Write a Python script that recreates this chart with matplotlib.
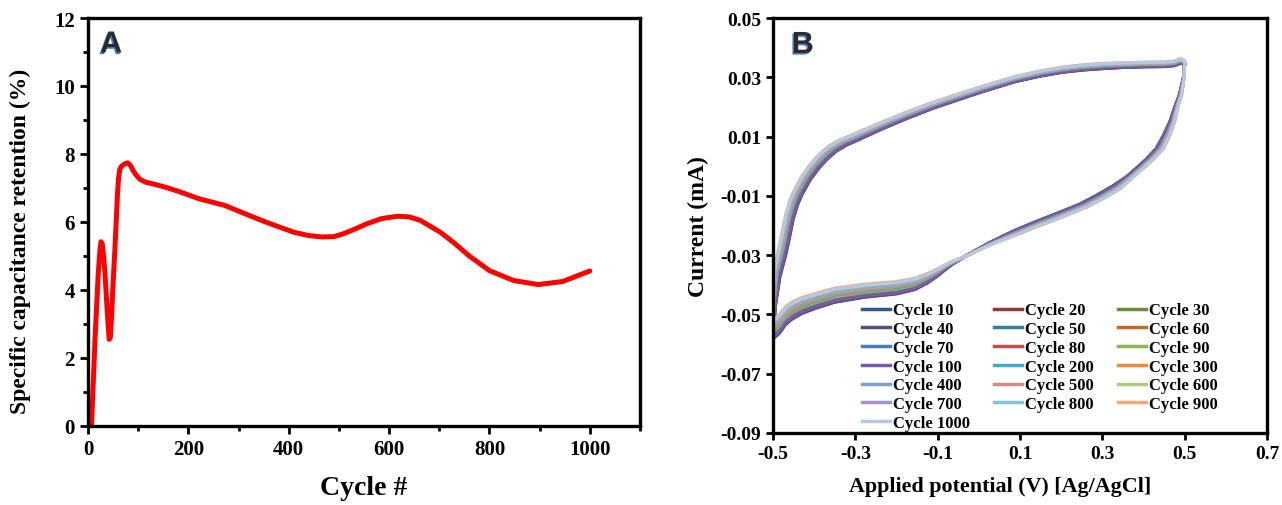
import numpy as np
import matplotlib
matplotlib.use("Agg")
import matplotlib.pyplot as plt
import matplotlib.patheffects as pe
from matplotlib.ticker import MultipleLocator

# ---------------- Panel A: capacitance retention vs cycle ----------------
cycle_no = [7, 14, 20.5, 24, 26, 28.5, 31, 33.7, 37, 40.3, 42.3, 44.5, 47, 50,
            53.6, 56.5, 58.9, 61, 63.5, 67, 72, 78.7, 84, 90, 96, 103, 115, 130,
            155, 182.5, 222, 272, 320, 354, 410, 440, 467, 490, 508, 530, 556,
            585, 617, 640, 662, 702, 730, 759, 800, 848, 897, 946, 1000]
retention = [0, 2.56, 4.5, 5.2, 5.42, 5.35, 5.0, 4.52, 3.7, 2.95, 2.55, 2.6,
             3.24, 4.2, 5.2, 6.1, 6.87, 7.3, 7.56, 7.64, 7.7, 7.74, 7.68, 7.51,
             7.38, 7.26, 7.17, 7.12, 7.02, 6.89, 6.68, 6.49, 6.2, 6.0, 5.70,
             5.60, 5.56, 5.57, 5.65, 5.78, 5.95, 6.1, 6.17, 6.15, 6.05, 5.70,
             5.38, 5.01, 4.57, 4.28, 4.16, 4.25, 4.56]

# ---------------- Panel B: cyclic voltammograms ----------------
cv_labels = ["Cycle 10", "Cycle 20", "Cycle 30", "Cycle 40", "Cycle 50",
             "Cycle 60", "Cycle 70", "Cycle 80", "Cycle 90", "Cycle 100",
             "Cycle 200", "Cycle 300", "Cycle 400", "Cycle 500", "Cycle 600",
             "Cycle 700", "Cycle 800", "Cycle 900", "Cycle 1000"]
cv_colors = ["#2F5A8F", "#943634", "#6E8B3D", "#5F4A7F", "#2E8199", "#C0692B",
             "#4A7CC0", "#C0504D", "#8CB652", "#7A5AA6", "#3FAFC9", "#F08A3C",
             "#7F9FD3", "#D48A88", "#AECB7E", "#A493C2", "#7FC4D9", "#F9A877",
             "#B6C9E3"]
# relative position of each cycle within the bundle of curves (-1 ... 1)
cv_offset = [-1.0, -0.85, -0.7, -0.95, -0.6, -0.45, -0.55, -0.35, -0.25, -0.8,
             -0.05, 0.15, 0.3, 0.4, 0.5, 0.55, 0.7, 1.0, 0.85]

# mean loop: anodic sweep -0.5 -> 0.5 V, then cathodic sweep back to -0.5 V
loop_potential = [-0.500, -0.497, -0.490, -0.478, -0.471, -0.460, -0.449, -0.439,
                  -0.420, -0.398, -0.378, -0.357, -0.330, -0.301, -0.236, -0.175,
                  -0.115, -0.050, 0.007, 0.088, 0.150, 0.200, 0.250, 0.300, 0.350,
                  0.400, 0.450, 0.475, 0.490, 0.500,
                  0.498, 0.490, 0.481, 0.470, 0.456, 0.440, 0.416, 0.392, 0.367,
                  0.335, 0.295, 0.254, 0.213, 0.173, 0.132, 0.092, 0.060, 0.027,
                  -0.030, -0.070, -0.100, -0.125, -0.155, -0.200, -0.277, -0.350,
                  -0.398, -0.430, -0.455, -0.470, -0.483, -0.495, -0.500]
loop_current = [-0.0550, -0.0450, -0.0360, -0.0290, -0.0246, -0.0170, -0.0120,
                -0.0088, -0.0040, 0.0002, 0.0032, 0.0058, 0.0080, 0.0097, 0.0137,
                0.0172, 0.0204, 0.0234, 0.0260, 0.0294, 0.0313, 0.0325, 0.0333,
                0.0338, 0.0341, 0.0343, 0.0344, 0.0347, 0.0355, 0.0350,
                0.0300, 0.0240, 0.0204, 0.0150, 0.0103, 0.0060, 0.0024, -0.0006,
                -0.0036, -0.0071, -0.0103, -0.0133, -0.0156, -0.0178, -0.0200,
                -0.0223, -0.0242, -0.0262, -0.0302, -0.0330, -0.0358, -0.0378,
                -0.0397, -0.0410, -0.0420, -0.0435, -0.0455, -0.0470, -0.0488,
                -0.0505, -0.0529, -0.0545, -0.0550]
# spread of the bundle along the loop (potential and current directions)
spread_potential = [0.0, -0.003, -0.007, -0.009, -0.009, -0.009, -0.009, -0.009,
                    -0.009, -0.009, -0.009, -0.009, -0.008, -0.007, -0.005, -0.004,
                    -0.003, -0.002, -0.001, 0.0, 0.0, 0.0, 0.0, 0.0, 0.0,
                    0.0, 0.0, 0.0, 0.0, 0.0,
                    0.001, 0.003, 0.004, 0.006, 0.008, 0.009, 0.009, 0.009, 0.009,
                    0.009, 0.009, 0.009, 0.009, 0.009, 0.008, 0.007, 0.005, 0.004,
                    0.001, 0.0, 0.0, 0.0, 0.0, 0.0, 0.0, 0.0,
                    0.0, 0.0, 0.0, 0.0, 0.0, 0.0, 0.0]
spread_current = [0.0030, 0.0020, 0.0012, 0.0009, 0.0009, 0.0009, 0.0009, 0.0009,
                  0.0009, 0.0009, 0.0009, 0.0009, 0.0009, 0.0009, 0.0009, 0.0009,
                  0.0009, 0.0009, 0.0009, 0.0009, 0.0009, 0.0009, 0.0009, 0.0009,
                  0.0008, 0.0008, 0.0008, 0.0008, 0.0008, 0.0006,
                  0.0, 0.0, 0.0, 0.0, 0.0, 0.0, 0.0, 0.0, 0.0,
                  -0.0005, -0.0005, -0.0005, -0.0005, -0.0005, -0.0005, -0.0005,
                  -0.0004, -0.0002, 0.0, 0.0006, 0.0012, 0.0016, 0.0019, 0.0021,
                  0.0022, 0.0024, 0.0025, 0.0027, 0.0029, 0.0030, 0.0032, 0.0032,
                  0.0030]

x_ticks_b = [-0.5, -0.3, -0.1, 0.1, 0.3, 0.5, 0.7]
y_ticks_b = [0.05, 0.03, 0.01, -0.01, -0.03, -0.05, -0.07, -0.09]

plt.rcParams["font.family"] = ["Liberation Serif", "DejaVu Serif"]
plt.rcParams["font.weight"] = "bold"

fig = plt.figure(figsize=(12.82, 5.06), dpi=100)
W, H = 1282, 506
ax1 = fig.add_axes([88 / W, 1 - 427 / H, (640 - 88) / W, (427 - 19) / H])
ax2 = fig.add_axes([773 / W, 1 - 434 / H, (1267 - 773) / W, (434 - 19) / H])

# Panel A
ax1.plot(cycle_no, retention, color="#FF0000", lw=3.6, solid_joinstyle="round",
         solid_capstyle="round")
ax1.set_xlim(0, 1100)
ax1.set_ylim(0, 12)
ax1.xaxis.set_minor_locator(MultipleLocator(100))
ax1.yaxis.set_major_locator(MultipleLocator(2))
ax1.yaxis.set_minor_locator(MultipleLocator(1))
ax1.set_xticks([0, 200, 400, 600, 800, 1000])
ax1.set_xlabel("Cycle #", fontsize=20, fontweight="bold")
ax1.xaxis.set_label_coords(0.5, -0.12)
ax1.set_ylabel("Specific capacitance retention (%)", fontsize=17,
               fontweight="bold")
ax1.yaxis.set_label_coords(-0.103, 0.455)
ax1.tick_params(which="major", direction="out", length=6, width=2,
                labelsize=15)
ax1.tick_params(which="minor", direction="out", length=3.5, width=2)
for s in ax1.spines.values():
    s.set_linewidth(2.4)

# Panel B
loop_potential = np.array(loop_potential)
loop_current = np.array(loop_current)
spread_potential = np.array(spread_potential)
spread_current = np.array(spread_current)
lines = []
for lab, col, off in zip(cv_labels, cv_colors, cv_offset):
    v = loop_potential + off * spread_potential
    i = loop_current + off * spread_current
    ln, = ax2.plot(v, i, color=col, lw=2.2, label=lab, solid_joinstyle="round")
    lines.append(ln)

ax2.set_xlim(-0.5, 0.7)
ax2.set_ylim(-0.09, 0.05)
ax2.set_xticks(x_ticks_b)
ax2.set_xticklabels([f"{t:.1f}" for t in x_ticks_b])
ax2.set_yticks(y_ticks_b)
ax2.set_yticklabels([f"{t:.2f}" for t in y_ticks_b])
ax2.set_xlabel("Applied potential (V) [Ag/AgCl]", fontsize=15.8,
               fontweight="bold")
ax2.xaxis.set_label_coords((1000 - 773) / (1267 - 773), -0.104)
ax2.set_ylabel("Current (mA)", fontsize=17, fontweight="bold", labelpad=8)
ax2.tick_params(direction="out", length=5, width=2, labelsize=14)
for s in ax2.spines.values():
    s.set_linewidth(2.4)

# legend filled row by row in three columns
ncol = 3
order = []
for c in range(ncol):
    order += list(range(c, len(lines), ncol))
leg = ax2.legend([lines[k] for k in order], [cv_labels[k] for k in order],
                 ncol=ncol, loc="upper left",
                 bbox_to_anchor=(862 / W, 1 - 303.5 / H),
                 bbox_transform=fig.transFigure, frameon=False,
                 prop=dict(family="Liberation Serif", weight="bold", size=12),
                 handlelength=1.7, handletextpad=0.15, labelspacing=0.165,
                 columnspacing=1.45, borderpad=0, borderaxespad=0)
for h in leg.get_lines():
    h.set_linewidth(2.5)

# panel letters
letter_fx = [pe.withSimplePatchShadow(offset=(-1.0, -1.2),
                                      shadow_rgbFace="#4A7BD0", alpha=1.0)]
ax1.text(0.022, 0.935, "A", transform=ax1.transAxes, fontsize=22,
         fontweight="bold", family="Liberation Sans", color="#2B2B2B",
         va="center", ha="left", path_effects=letter_fx)
ax2.text(0.038, 0.935, "B", transform=ax2.transAxes, fontsize=22,
         fontweight="bold", family="Liberation Sans", color="#2B2B2B",
         va="center", ha="left", path_effects=letter_fx)

fig.savefig("out.png", dpi=100)
